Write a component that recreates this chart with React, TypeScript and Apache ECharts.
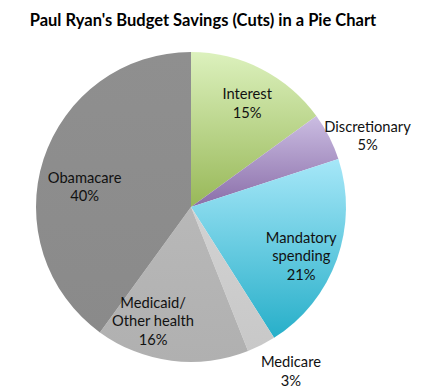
import React, { useEffect, useRef } from "react";
import * as echarts from "echarts";

const titleText = "Paul Ryan's Budget Savings (Cuts) in a Pie Chart";
const categories = ["Interest", "Discretionary", "Mandatory\nspending", "Medicare", "Medicaid/\nOther health", "Obamacare"];
const values = [15, 5, 21, 3, 16, 40];
const outsideLabels = [false, true, false, true, false, false];
const topColors = ["#dcf1bd", "#cbbde2", "#a6e7f8", "#d2d2d2", "#b8b8b8", "#8f8f8f"];
const bottomColors = ["#98b858", "#8a6ea9", "#27afc9", "#c8c8c8", "#b0b0b0", "#8a8a8a"];

// small label nudges (Excel-like label placement)
const labelNudge: [number, number][] = [[2, 2], [4, 16], [-2, 8], [12, -9], [-23, -5], [7, 16]];

export default function App() {
  const ref = useRef<HTMLDivElement>(null);
  useEffect(() => {
    if (!ref.current) return;
    const chart = echarts.init(ref.current, null, { renderer: "svg" });
    const R = 155;
    const center = [191, 207];
    const labelStyle = {
      fontFamily: "Lato",
      fontSize: 14.7,
      color: "#111",
      lineHeight: 18.5,
      align: "center" as const,
      formatter: (p: any) => `${p.name}\n${p.value}%`,
    };
    const nudge = (p: any) => ({ dx: labelNudge[p.dataIndex][0], dy: labelNudge[p.dataIndex][1] });
    chart.setOption({
      animation: false,
      title: {
        text: titleText,
        left: 198,
        top: 6,
        textAlign: "center",
        textStyle: { fontFamily: "Lato", fontWeight: "bold", fontSize: 16.5, color: "#000" },
      },
      series: [
        {
          type: "pie",
          center,
          radius: [0, R],
          startAngle: 90,
          clockwise: true,
          silent: true,
          label: { show: false },
          labelLine: { show: false },
          data: categories.map((c, i) => ({
            name: c,
            value: values[i],
            itemStyle: {
              color: new echarts.graphic.LinearGradient(0, 0, 0, 1, [
                { offset: 0, color: topColors[i] },
                { offset: 1, color: bottomColors[i] },
              ]),
            },
          })),
        },
        {
          type: "pie",
          center,
          radius: [R * 0.5, R],
          startAngle: 90,
          clockwise: true,
          silent: true,
          itemStyle: { color: "rgba(0,0,0,0)" },
          labelLine: { show: false },
          label: { ...labelStyle, position: "inside" },
          labelLayout: nudge,
          data: categories.map((c, i) => ({
            name: c,
            value: values[i],
            label: { show: !outsideLabels[i] },
          })),
        },
        {
          type: "pie",
          center,
          radius: [R, R * 1.46],
          startAngle: 90,
          clockwise: true,
          silent: true,
          itemStyle: { color: "rgba(0,0,0,0)" },
          labelLine: { show: false },
          label: { ...labelStyle, position: "inside" },
          labelLayout: nudge,
          data: categories.map((c, i) => ({
            name: c,
            value: values[i],
            label: { show: outsideLabels[i] },
          })),
        },
      ],
    });
    return () => chart.dispose();
  }, []);
  return <div ref={ref} style={{ width: 424, height: 390, position: "absolute", left: 0, top: 0, background: "#fff" }} />;
}
